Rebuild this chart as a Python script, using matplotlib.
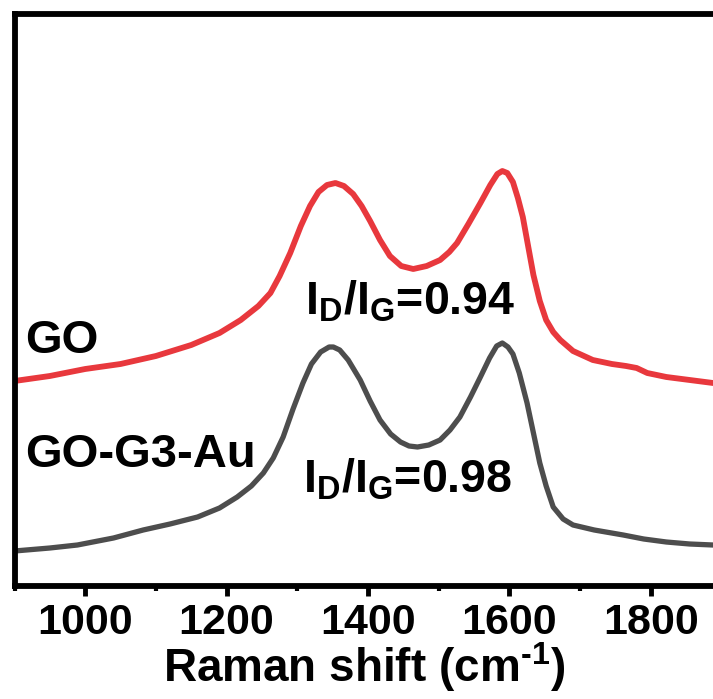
import matplotlib
matplotlib.use("Agg")
import matplotlib.pyplot as plt
import matplotlib.ticker as mticker

plt.rcParams['font.family'] = ['Liberation Sans', 'DejaVu Sans']
plt.rcParams['font.weight'] = 'bold'
plt.rcParams['mathtext.fontset'] = 'custom'
plt.rcParams['mathtext.rm'] = 'Liberation Sans:bold'
plt.rcParams['mathtext.bf'] = 'Liberation Sans:bold'
plt.rcParams['mathtext.it'] = 'Liberation Sans:bold'

#######################################
# Data (a.u.)
#######################################
go_shift = [900, 950, 1000, 1050, 1100, 1150, 1190, 1220, 1245, 1262, 1275, 1290, 1305,
            1318, 1330, 1342, 1354, 1366, 1379, 1391, 1403, 1417, 1431, 1447, 1464,
            1483, 1502, 1515, 1526, 1542, 1559, 1573, 1583, 1590, 1597, 1605, 1612,
            1619, 1627, 1634, 1643, 1652, 1662, 1672, 1690, 1718, 1745, 1765, 1780,
            1795, 1822, 1855, 1888]
go_int = [205, 210, 217, 222, 230, 241, 253, 266, 280, 293, 310, 333, 360,
          380, 394, 401, 403, 400, 392, 380, 365, 346, 330, 320, 317,
          320, 326, 334, 343, 362, 383, 401, 412, 415, 413, 404, 388,
          369, 338, 311, 285, 266, 254, 246, 235, 226, 222, 220, 218,
          213, 209, 206, 203]

au_shift = [900, 950, 989, 1040, 1082, 1120, 1159, 1190, 1215, 1235, 1252, 1266, 1280,
            1294, 1308, 1320, 1333, 1345, 1351, 1360, 1372, 1389, 1403, 1417, 1432,
            1446, 1458, 1470, 1486, 1502, 1516, 1530, 1545, 1559, 1572, 1582, 1590,
            1598, 1605, 1614, 1625, 1634, 1643, 1652, 1662, 1676, 1690, 1720, 1761,
            1790, 1822, 1855, 1888]
au_int = [35, 38, 41, 48, 56, 62, 69, 78, 89, 100, 113, 128, 149,
          177, 203, 222, 234, 239, 239, 236, 226, 206, 185, 166, 152,
          144, 140, 139, 141, 146, 156, 169, 189, 209, 228, 240, 243,
          239, 232, 213, 183, 153, 123, 100, 79, 67, 61, 56, 51,
          47, 44, 42, 41]

x_ticks = [1000, 1200, 1400, 1600, 1800]

#######################################
# Plot
#######################################
fig = plt.figure(figsize=(7.13, 6.99), dpi=100)
ax = fig.add_axes([14.5 / 713, 113 / 699, 1 - 14.5 / 713, (586 - 14) / 699])

ax.plot(go_shift, go_int, color='#E8383D', linewidth=4.2,
        solid_capstyle='round', solid_joinstyle='round')
ax.plot(au_shift, au_int, color='#4D4D4D', linewidth=3.8,
        solid_capstyle='round', solid_joinstyle='round')

ax.set_xlim(900, 1888)
ax.set_ylim(0, 572)

for side in ['left', 'top', 'bottom']:
    ax.spines[side].set_linewidth(4.2)
ax.spines['right'].set_visible(False)

ax.set_xticks(x_ticks)
ax.xaxis.set_minor_locator(mticker.MultipleLocator(100))
ax.set_yticks([])
ax.tick_params(axis='x', which='major', direction='out', length=7, width=3.5, pad=5)
ax.tick_params(axis='x', which='minor', direction='out', length=3.5, width=3)
for lbl in ax.get_xticklabels():
    lbl.set_fontsize(31)
    lbl.set_fontweight('bold')

ax.set_xlabel(r'Raman shift (cm$^{\text{-1}}$)', fontsize=33, fontweight='bold', labelpad=-2)

ax.text(915, 233, 'GO', fontsize=34, fontweight='bold', va='baseline')
ax.text(915, 119, 'GO-G3-Au', fontsize=34, fontweight='bold', va='baseline')
ax.text(1311, 271, r'$\mathbf{I_D/I_G}$=0.94', fontsize=33.5, fontweight='bold', va='baseline')
ax.text(1308, 93, r'$\mathbf{I_D/I_G}$=0.98', fontsize=33.5, fontweight='bold', va='baseline')

plt.savefig("out.png", dpi=100)
plt.close()
